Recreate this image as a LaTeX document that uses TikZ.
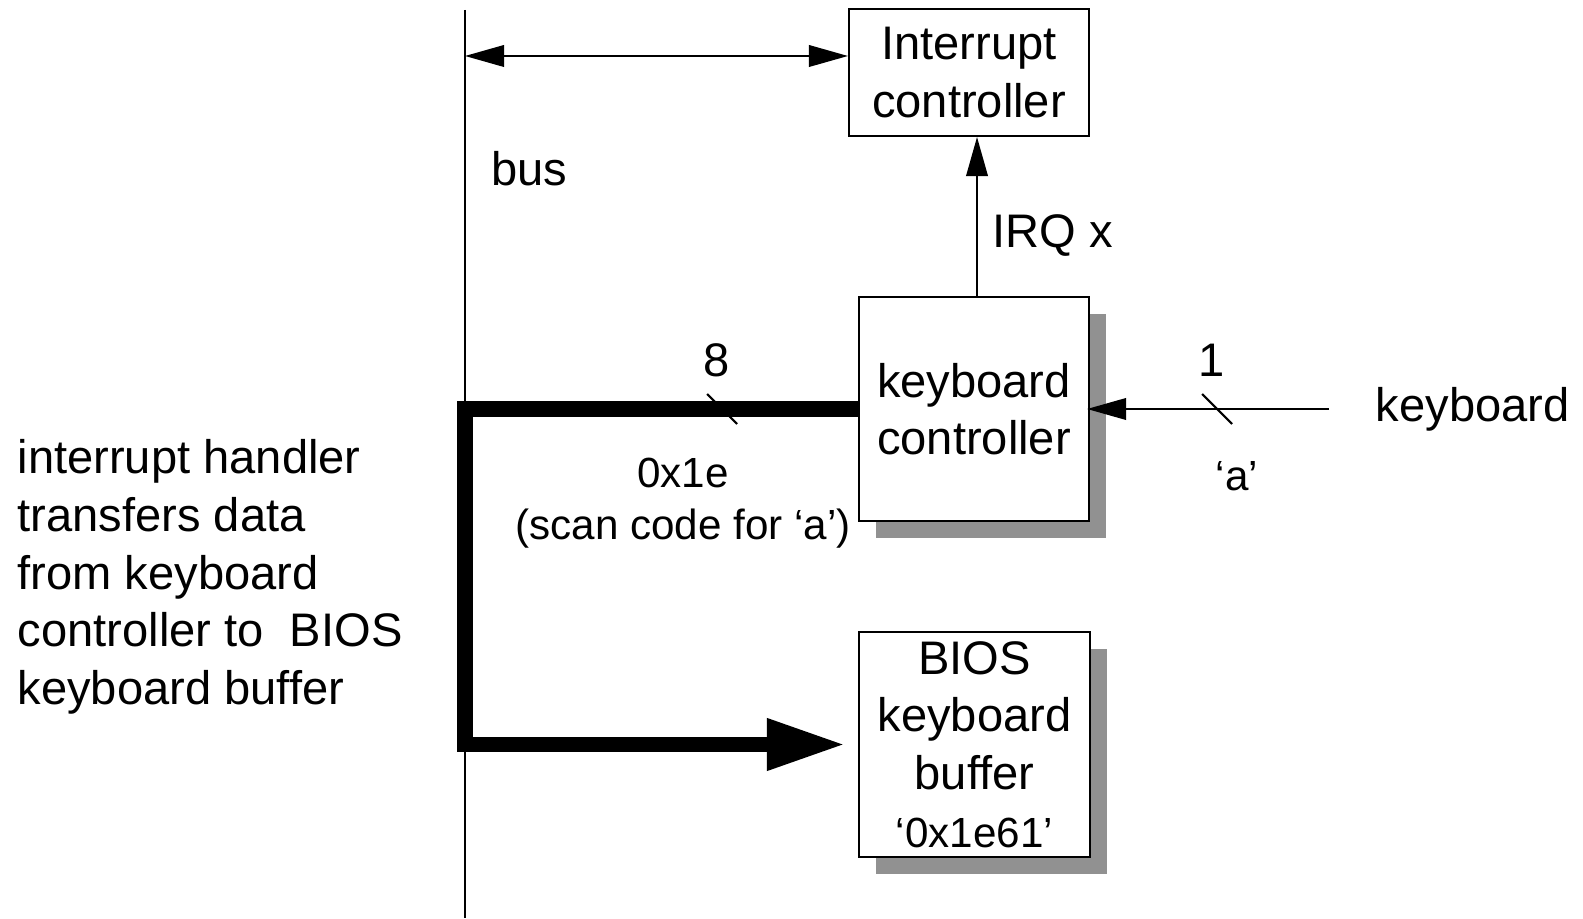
\documentclass[tikz,border=0pt]{standalone}
\usepackage{fontspec}
\setmainfont{Liberation Sans}
\usetikzlibrary{arrows.meta,shadows}
\newcommand{\bigtext}{\fontsize{13.4}{16.4}\selectfont}
\newcommand{\smalltext}{\fontsize{12}{14.9}\selectfont}

\begin{document}
\begin{tikzpicture}[box/.style={draw, line width=0.6pt, fill=white, inner sep=0pt,
      align=center, font=\bigtext},
    shadowed/.style={general shadow={fill=black!43, shadow xshift=0.17cm,
        shadow yshift=-0.17cm}},
    lbl/.style={inner sep=0pt, font=\bigtext},
    small/.style={inner sep=0pt, align=center, font=\smalltext}]
    \useasboundingbox (0,0) rectangle (15.83,9.18);

    \begin{scope}[every node/.style={box}]
      \node (ic) [minimum width=2.40cm, minimum height=1.27cm] at (9.69,8.455) {Interrupt\\controller};
      \node (kc) [shadowed, minimum width=2.30cm, minimum height=2.24cm] at (9.74,5.09) {keyboard\\controller};
      \node (kb) [shadowed, minimum width=2.31cm, minimum height=2.25cm] at (9.745,1.735) {BIOS\\keyboard\\buffer\\{\smalltext ‘0x1e61’}};
    \end{scope}

    \coordinate (bustop) at (4.65,9.08);
    \coordinate (busbot) at (4.65,0);
    \coordinate (busic) at (4.65,8.62);
    \coordinate (kbin) at (13.29,5.09);
    \coordinate (irqfoot) at ([xshift=0.03cm]kc.north);

    \begin{scope}[line width=0.6pt, >={Triangle[length=0.39cm, width=0.215cm]}]
      \draw (bustop) -- (busbot);
      \draw [<->] (busic) -- (busic -| ic.west);
      \draw [->] (irqfoot) -- (irqfoot |- ic.south);
      \draw [->] (kbin) -- ([xshift=-0.03cm]kc.east);
      % bus width marks
      \draw (7.22,5.09) ++(-0.15,0.15) -- ++(0.3,-0.3);
      \draw (12.17,5.09) ++(-0.15,0.15) -- ++(0.3,-0.3);
    \end{scope}

    % data path from keyboard controller to the buffer
    \draw [line width=4.5pt, -{Triangle[length=0.79cm, width=0.48cm]}, shorten >=0.12cm]
      (kc.west) -- (kc.west -| bustop) |- (kb.west);

    \node [lbl] (bus) at (5.29,7.49) {bus};
    \node [lbl] (irq) at (10.53,6.82) {IRQ x};
    \node [lbl] (eight) at (7.17,5.58) {8};
    \node [small] (scan) at (6.83,4.15) {0x1e\\(scan code for ‘a’)};
    \node [lbl] (one) at (12.12,5.58) {1};
    \node [small] (chr) at (12.37,4.42) {‘a’};
    \node [lbl, anchor=west] (keyb) at (13.75,5.09) {keyboard};
    \node [lbl, anchor=west, align=left] (handler) at (0.17,3.41)
      {interrupt handler\\transfers data\\from keyboard\\controller to\ \ BIOS\\keyboard buffer};
  \end{tikzpicture}
\end{document}
